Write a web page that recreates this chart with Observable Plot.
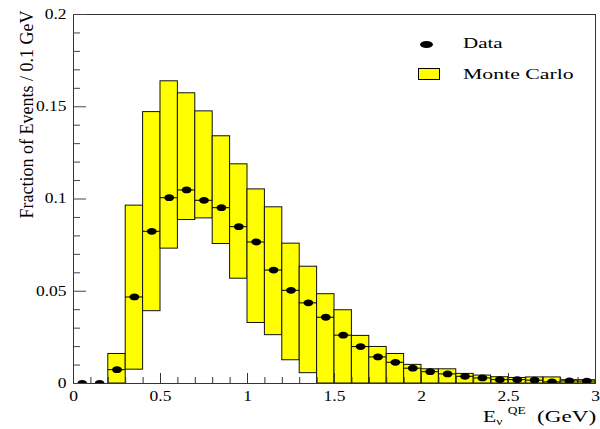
<!DOCTYPE html>
<html><head><meta charset="utf-8">
<script src="https://cdn.jsdelivr.net/npm/d3@7"></script>
<script src="https://cdn.jsdelivr.net/npm/@observablehq/plot@0.6"></script>
<style>
body{margin:0;background:#fff;}
#wrap{position:relative;width:600px;height:429px;font-family:"Liberation Serif",serif;color:#000;}
.ov{position:absolute;white-space:nowrap;line-height:1;}
.ov span.s{position:relative;font-size:10px;}
</style></head><body><div id="wrap"></div>
<script>
// Bin edges (GeV)
const binLow  = [0.0,0.1,0.2,0.3,0.4,0.5,0.6,0.7,0.8,0.9,1.0,1.1,1.2,1.3,1.4,1.5,1.6,1.7,1.8,1.9,2.0,2.1,2.2,2.3,2.4,2.5,2.6,2.7,2.8,2.9];
const binHigh = [0.1,0.2,0.3,0.4,0.5,0.6,0.7,0.8,0.9,1.0,1.1,1.2,1.3,1.4,1.5,1.6,1.7,1.8,1.9,2.0,2.1,2.2,2.3,2.4,2.5,2.6,2.7,2.8,2.9,3.0];
// Monte Carlo band (low / high edge of the yellow box)
const mcLow  = [null,null,0,0.0075,0.0392,0.0731,0.0886,0.0895,0.0756,0.0568,0.0328,0.0262,0.0126,0.0056,0,0,0,0,0,0,0,0,0,0,0,0,0,0,0,0];
const mcHigh = [null,null,0.016,0.0964,0.1471,0.1638,0.1573,0.1475,0.134,0.1188,0.1052,0.0955,0.0758,0.0633,0.0484,0.0397,0.0258,0.0198,0.016,0.0101,0.0077,0.0077,0.0052,0.0043,0.0034,0.003,0.0033,0.0033,0.0018,0.0018];
// Data points
const dataFrac = [0,0,0.0075,0.0469,0.0825,0.1007,0.1049,0.0993,0.0953,0.085,0.0767,0.0615,0.0505,0.0437,0.0359,0.0262,0.020,0.0144,0.0115,0.0083,0.0064,0.0052,0.0039,0.003,0.0021,0.0021,0.0018,0.0009,0.0014,0.0013];
// Ticks
const xMajorTicks = [0,0.5,1,1.5,2,2.5,3];
const xTickLabels = ["0","0.5","1","1.5","2","2.5","3"];
const xMinorTicks = [0.1,0.2,0.3,0.4,0.6,0.7,0.8,0.9,1.1,1.2,1.3,1.4,1.6,1.7,1.8,1.9,2.1,2.2,2.3,2.4,2.6,2.7,2.8,2.9];
const yMajorTicks = [0,0.05,0.1,0.15,0.2];
const yTickLabels = ["0","0.05","0.1","0.15","0.2"];
const yMinorTicks = [0.01,0.02,0.03,0.04,0.06,0.07,0.08,0.09,0.11,0.12,0.13,0.14,0.16,0.17,0.18,0.19];
const yTitle = "Fraction of Events / 0.1 GeV";
const legendLabels = ["Data","Monte Carlo"];

const bins = binLow.map((lo,i)=>({lo, hi: binHigh[i], mcLo: mcLow[i], mcHi: mcHigh[i], v: dataFrac[i]}));
const mcBins = bins.filter(d => d.mcHi != null);

const ellipse = {draw(ctx, size){
  const r = Math.sqrt(size/Math.PI), rx = r*1.45, ry = r, k = 0.5523;
  ctx.moveTo(rx,0);
  ctx.bezierCurveTo(rx, ry*k, rx*k, ry, 0, ry);
  ctx.bezierCurveTo(-rx*k, ry, -rx, ry*k, -rx, 0);
  ctx.bezierCurveTo(-rx, -ry*k, -rx*k, -ry, 0, -ry);
  ctx.bezierCurveTo(rx*k, -ry, rx, -ry*k, rx, 0);
  ctx.closePath();
}};

const W = 600, H = 429, mL = 73, mR = 5, mT = 14, mB = 46;
const innerW = W - mL - mR, innerH = H - mT - mB;

const chart = Plot.plot({
  width: W, height: H,
  marginLeft: mL, marginRight: mR, marginTop: mT, marginBottom: mB,
  style: {fontFamily: '"Liberation Serif", serif', fontSize: "14px", color: "black", background: "white"},
  x: {domain: [0,3], label: null},
  y: {domain: [0,0.2], label: null},
  marks: [
    Plot.rect(mcBins, {x1: "lo", x2: "hi", y1: "mcLo", y2: "mcHi", fill: "#ffff00", stroke: "#111", strokeWidth: 1}),
    Plot.ruleY(bins, {y: "v", x1: "lo", x2: "hi", stroke: "black", strokeWidth: 1, clip: true}),
    Plot.dot(bins, {x: d => (d.lo + d.hi)/2, y: "v", r: 3.4, symbol: ellipse, fill: "black", stroke: null, clip: true}),
    Plot.frame({stroke: "#333", strokeWidth: 1}),
    // inward ticks
    Plot.tickX(xMinorTicks, {x: d => d, insetTop: innerH - 6, stroke: "#333"}),
    Plot.tickX(xMajorTicks, {x: d => d, insetTop: innerH - 10, stroke: "#333"}),
    Plot.tickY(yMinorTicks, {y: d => d, insetRight: innerW - 7, stroke: "#444"}),
    Plot.tickY(yMajorTicks, {y: d => d, insetRight: innerW - 13, stroke: "#444"}),
    // tick labels
    Plot.axisX({ticks: xMajorTicks, tickSize: 0, tickPadding: 8, tickFormat: d => xTickLabels[xMajorTicks.indexOf(d)], label: null}),
    Plot.axisY({ticks: yMajorTicks, tickSize: 0, tickPadding: 7, tickFormat: d => yTickLabels[yMajorTicks.indexOf(d)], label: null}),
    Plot.text([yTitle], {frameAnchor: "top-left", rotate: -90, textAnchor: "end", dx: -53, dy: -4, fontSize: 18})
  ]
});
const wrap = document.getElementById("wrap");
wrap.appendChild(chart);
// widen tick labels to match the stretched look of the reference
chart.querySelectorAll('g[aria-label="x-axis tick label"] text, g[aria-label="y-axis tick label"] text').forEach(t => {
  const w = t.getComputedTextLength();
  if (w > 0) { t.setAttribute("textLength", w*1.25); t.setAttribute("lengthAdjust", "spacingAndGlyphs"); }
});

// Legend
function ov(html, css){ const d = document.createElement("div"); d.className = "ov"; d.innerHTML = html; Object.assign(d.style, css); wrap.appendChild(d); return d; }
ov("", {left:"420px", top:"40.5px", width:"13px", height:"7px", borderRadius:"50%", background:"#000"});
ov(legendLabels[0], {left:"463px", top:"36px", fontSize:"15px", transform:"scaleX(1.4)", transformOrigin:"left"});
ov("", {left:"418px", top:"68px", width:"20px", height:"10px", background:"#ffff00", border:"1px solid #000"});
ov(legendLabels[1], {left:"463px", top:"67px", fontSize:"15px", transform:"scaleX(1.45)", transformOrigin:"left"});
// X-axis title
ov('E<span class="s" style="top:3px">ν</span>&nbsp;<span class="s" style="top:-8px">QE</span>',
   {left:"483px", top:"409px", fontSize:"16px", transform:"scaleX(1.35)", transformOrigin:"left"});
ov('(GeV)', {left:"537px", top:"409px", fontSize:"16px", transform:"scaleX(1.45)", transformOrigin:"left"});
</script>
</body></html>
